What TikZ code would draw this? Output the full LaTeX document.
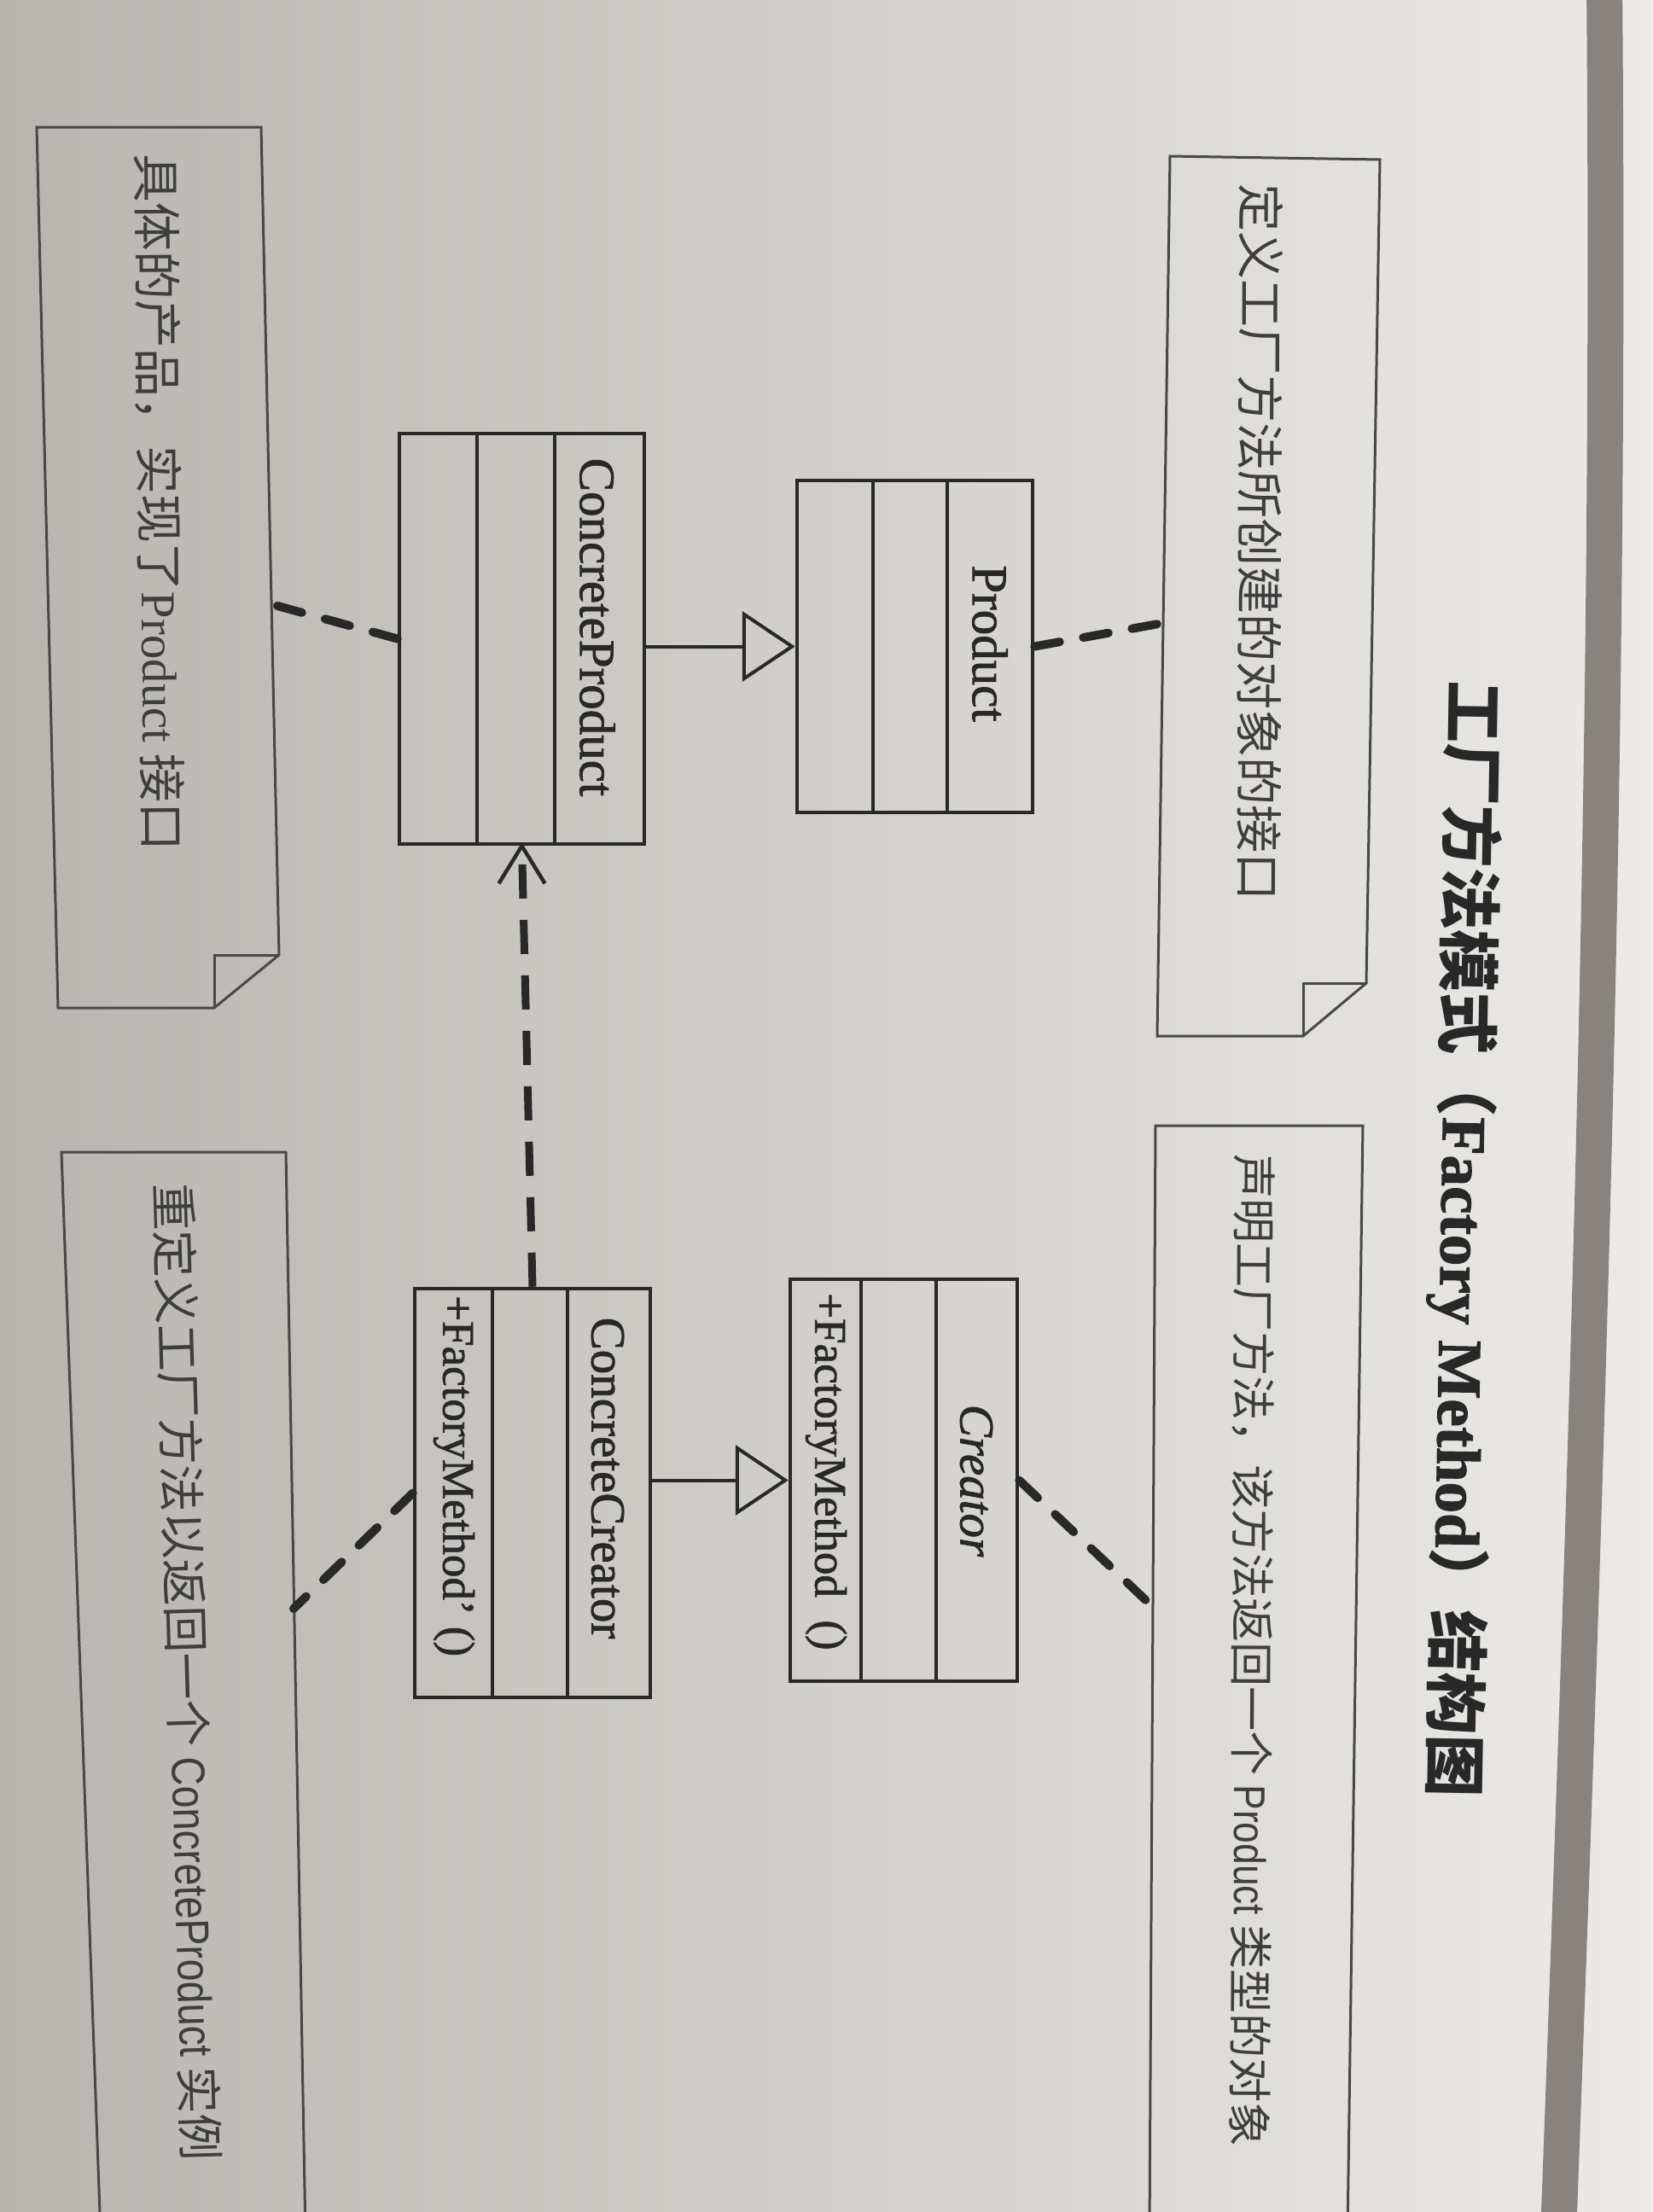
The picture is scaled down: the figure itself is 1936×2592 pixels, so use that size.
\documentclass[tikz,border=0pt]{standalone}
\usepackage{graphicx}
\usepackage{fontspec}
\setmainfont{Liberation Serif}
\newfontfamily\cjk{Noto Sans CJK SC}
\newfontfamily\lsans{Liberation Sans}
\newfontfamily\clsfont[FakeBold=1.4]{Liberation Serif}
\newfontfamily\titlelatin[FakeBold=1.5]{Liberation Serif Bold}
\usetikzlibrary{arrows.meta,calc}
\definecolor{paperL}{RGB}{184,181,177}
\definecolor{paperR}{RGB}{236,234,230}
\definecolor{ink}{RGB}{40,40,40}
\definecolor{notetext}{RGB}{62,62,62}
\definecolor{barcol}{RGB}{136,131,126}
\newcommand{\narrowsans}[1]{{\lsans\scalebox{0.85}[1]{#1}}}
\begin{document}
\begin{tikzpicture}[x=1pt,y=-1pt,
 clsbox/.style={draw=ink,line width=4.5pt,rectangle,inner sep=0pt},
 clsline/.style={draw=ink,line width=4.5pt},
 clstext/.style={inner sep=0pt,text=ink,font=\clsfont\fontsize{59}{60}\selectfont},
 optext/.style={inner sep=0pt,text=ink,font=\clsfont\fontsize{53}{54}\selectfont,anchor=west,rotate=-90},
 noteline/.style={draw=ink!85,line width=3pt,line join=miter},
 notetxt/.style={inner sep=0pt,text=notetext,anchor=west},
 notelink/.style={draw=ink,line width=10pt,line cap=round,dash pattern=on 30pt off 28pt},
 genl/.style={draw=ink,line width=4pt,-{Triangle[open,length=62pt,width=82pt]}},
 depl/.style={draw=ink,line width=9pt,dash pattern=on 40pt off 25pt},
]
\useasboundingbox (0,0) rectangle (1936,2592);
\clip (0,0) rectangle (1936,2592);
\shade[left color=paperL,right color=paperR] (0,0) rectangle (1936,2592);
\draw[barcol,line width=42pt] (1880,-20) .. controls (1888,900) and (1860,1700) .. (1826,2620);

% notes
\draw[noteline] (1371,183) -- (1617,187) -- (1601,1152) -- (1527,1214) -- (1356,1214) -- cycle;
\draw[noteline] (1527,1214) -- (1527,1152) -- (1601,1152);
\draw[noteline] (43,149) -- (306,149) -- (327,1119) -- (251,1181) -- (68,1181) -- cycle;
\draw[noteline] (251,1181) -- (251,1119) -- (327,1119);
\draw[noteline] (1347,2620) -- (1354,1319) -- (1597,1319) -- (1579,2620);
\draw[noteline] (118,2620) -- (72,1350) -- (335,1350) -- (358,2620);

\node[notetxt,rotate=-90.2,font=\cjk\fontsize{56}{56}\selectfont] (t1) at (1478,215) {定义工厂方法所创建的对象的接口};
\node[notetxt,rotate=-90.3,font=\cjk\fontsize{52}{52}\selectfont] (t2) at (1470,1352) {声明工厂方法，该方法返回一个 \narrowsans{Product} 类型的对象};
\node[notetxt,rotate=-89.5,font=\cjk\fontsize{57}{57}\selectfont] (t3) at (183,180) {具体的产品，实现了{\rmfamily Product} 接口};
\node[notetxt,rotate=-88.35,font=\cjk\fontsize{55}{55}\selectfont] (t4) at (203,1387) {重定义工厂方法以返回一个 \narrowsans{ConcreteProduct} 实例};

% title
\node[inner sep=0pt,anchor=west,rotate=-91,text=ink,font=\fontsize{73}{73}\selectfont] (title) at (1724,798) {{\cjk\bfseries 工厂方法模式（}{\titlelatin Factory Method}{\cjk\bfseries ）结构图}};

% classes
\node[clsbox,minimum width=276pt,minimum height=389pt] (prod) at (1072,757.5) {};
\draw[clsline] (prod.north -| 1023,0) -- (prod.south -| 1023,0);
\draw[clsline] (prod.north -| 1110,0) -- (prod.south -| 1110,0);
\node[clstext,rotate=-90] (prodname) at (1160,754) {Product};

\node[clsbox,minimum width=287pt,minimum height=481pt] (cp) at (611.5,748.5) {};
\draw[clsline] (cp.north -| 559,0) -- (cp.south -| 559,0);
\draw[clsline] (cp.north -| 650,0) -- (cp.south -| 650,0);
\node[clstext,rotate=-90] (cpname) at (700,735) {ConcreteProduct};

\node[clsbox,minimum width=266pt,minimum height=471pt] (cr) at (1059,1734.5) {};
\draw[clsline] (cr.north -| 1009,0) -- (cr.south -| 1009,0);
\draw[clsline] (cr.north -| 1097,0) -- (cr.south -| 1097,0);
\node[clstext,rotate=-90,font=\clsfont\fontsize{57}{57}\selectfont\itshape] (crname) at (1144,1735) {Creator};
\node[optext] (crop) at (968,1515) {+FactoryMethod\ \ ()};

\node[clsbox,minimum width=276pt,minimum height=479pt] (cc) at (624,1749.5) {};
\draw[clsline] (cc.north -| 577,0) -- (cc.south -| 577,0);
\draw[clsline] (cc.north -| 665,0) -- (cc.south -| 665,0);
\node[clstext,rotate=-90,font=\clsfont\fontsize{57}{57}\selectfont] (ccname) at (712,1732) {ConcreteCreator};
\node[optext] (ccop) at (532,1518) {+FactoryMethod’\ ()};

% connectors
\draw[genl] (prod.west -| cp.east) -- (prod.west);
\draw[genl] (cr.west -| cc.east) -- (cr.west);
\draw[depl] (cc.north) -- (cp.south);
\draw[draw=ink,line width=4.5pt,line join=miter] ($(cp.south)+(-27,44)$) -- (cp.south) -- ($(cp.south)+(27,44)$);

\coordinate (n1a) at (1363,730);
\coordinate (n3a) at (318,708);
\coordinate (n2a) at (1351,1883);
\coordinate (n4a) at (344,1885);
\draw[notelink] (prod.east) -- (n1a);
\draw[notelink] (cp.west) -- (n3a);
\draw[notelink] (cr.east) -- (n2a);
\draw[notelink] (cc.west) -- (n4a);
\end{tikzpicture}
\end{document}
